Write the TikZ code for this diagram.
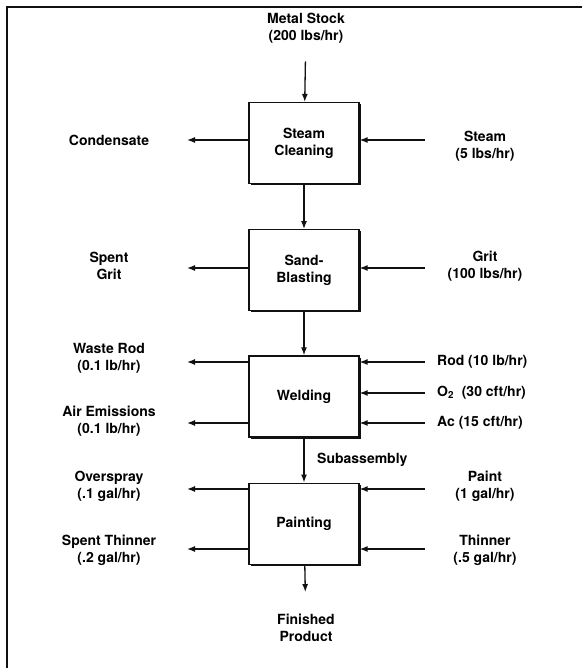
\documentclass[tikz,border=0pt]{standalone}
\usepackage{fontspec}
\setmainfont{TeX Gyre Heros}
\usetikzlibrary{arrows.meta,positioning,shadows}
\definecolor{Ink}{HTML}{111111}
\definecolor{Paper}{HTML}{FFFFFF}
\tikzset{
  stage/.style={
    draw=Ink, line width=1.2pt, fill=Paper,
    minimum width=110pt, minimum height=81pt, align=center,
    drop shadow={shadow xshift=1.6pt, shadow yshift=-1.6pt, fill=Ink, opacity=1}
  },
  stream/.style={align=center, inner sep=0pt},
  flow/.style={-{Latex[length=8pt,width=6pt]}, line width=1.3pt, draw=Ink}
}

\begin{document}
\begin{tikzpicture}[x=1pt,y=-1pt,font=\fontsize{14}{17}\selectfont\bfseries]
        \useasboundingbox (0,0) rectangle (582,668);
        \draw[line width=2pt,draw=Ink] (7,668) -- (7,7) -- (582,7);
        % process steps
        \node[stage] (clean) at (304,143) {Steam\\Cleaning};
        \node[stage,below=45pt of clean] (blast) {Sand-\\Blasting};
        \node[stage,below=44pt of blast] (weld) {Welding};
        \node[stage,below=45pt of weld] (paint) {Painting};
        % main line
        \node[stream] (stock) at (306,28) {Metal Stock\\(200 lbs/hr)};
        \node[stream] (product) at (306,628) {Finished\\Product};
        \node[stream,anchor=west] (subasm) at (317,460) {Subassembly};
        \draw[flow,shorten <=18pt] (stock) -- (clean);
        \draw[flow] (clean) -- (blast);
        \draw[flow] (blast) -- (weld);
        \draw[flow] (weld) -- (paint);
        \draw[flow,shorten >=22pt] (paint) -- (product);
        % outputs
        \node[stream] (cond) at (109,140) {Condensate};
        \node[stream] (sgrit) at (109,266) {Spent\\Grit};
        \node[stream] (wrod) at (109,358) {Waste Rod\\(0.1 lb/hr)};
        \node[stream] (airem) at (109,421) {Air Emissions\\(0.1 lb/hr)};
        \node[stream] (ospray) at (109,486) {Overspray\\(.1 gal/hr)};
        \node[stream] (sthin) at (109,550) {Spent Thinner\\(.2 gal/hr)};
        \coordinate (condout) at (187,140);
        \coordinate (sgritout) at (187,268);
        \coordinate (wrodout) at (187,362);
        \coordinate (airout) at (187,423);
        \coordinate (sprayout) at (187,489);
        \coordinate (sthinout) at (187,549);
        \draw[flow] (condout -| clean.west) -- (condout);
        \draw[flow] (sgritout -| blast.west) -- (sgritout);
        \draw[flow] (wrodout -| weld.west) -- (wrodout);
        \draw[flow] (airout -| weld.west) -- (airout);
        \draw[flow] (sprayout -| paint.west) -- (sprayout);
        \draw[flow] (sthinout -| paint.west) -- (sthinout);
        % inputs
        \node[stream] (steam) at (485,146) {Steam\\(5 lbs/hr)};
        \node[stream] (grit) at (485,266) {Grit\\(100 lbs/hr)};
        \node[stream,anchor=west] (rod) at (437,362) {Rod (10 lb/hr)};
        \node[stream,anchor=west] (oxy) at (437,393) {O\textsubscript{2}\ \ (30 cft/hr)};
        \node[stream,anchor=west] (acet) at (437,423) {Ac (15 cft/hr)};
        \node[stream] (pnt) at (485,486) {Paint\\(1 gal/hr)};
        \node[stream] (thin) at (485,550) {Thinner\\(.5 gal/hr)};
        \coordinate (steamin) at (425,140);
        \coordinate (gritin) at (425,268);
        \coordinate (rodin) at (425,362);
        \coordinate (oxyin) at (425,393);
        \coordinate (acin) at (425,423);
        \coordinate (pntin) at (425,489);
        \coordinate (thinin) at (425,549);
        \draw[flow] (steamin) -- (steamin -| clean.east);
        \draw[flow] (gritin) -- (gritin -| blast.east);
        \draw[flow] (rodin) -- (rodin -| weld.east);
        \draw[flow] (oxyin) -- (oxyin -| weld.east);
        \draw[flow] (acin) -- (acin -| weld.east);
        \draw[flow] (pntin) -- (pntin -| paint.east);
        \draw[flow] (thinin) -- (thinin -| paint.east);
      \end{tikzpicture}
\end{document}
